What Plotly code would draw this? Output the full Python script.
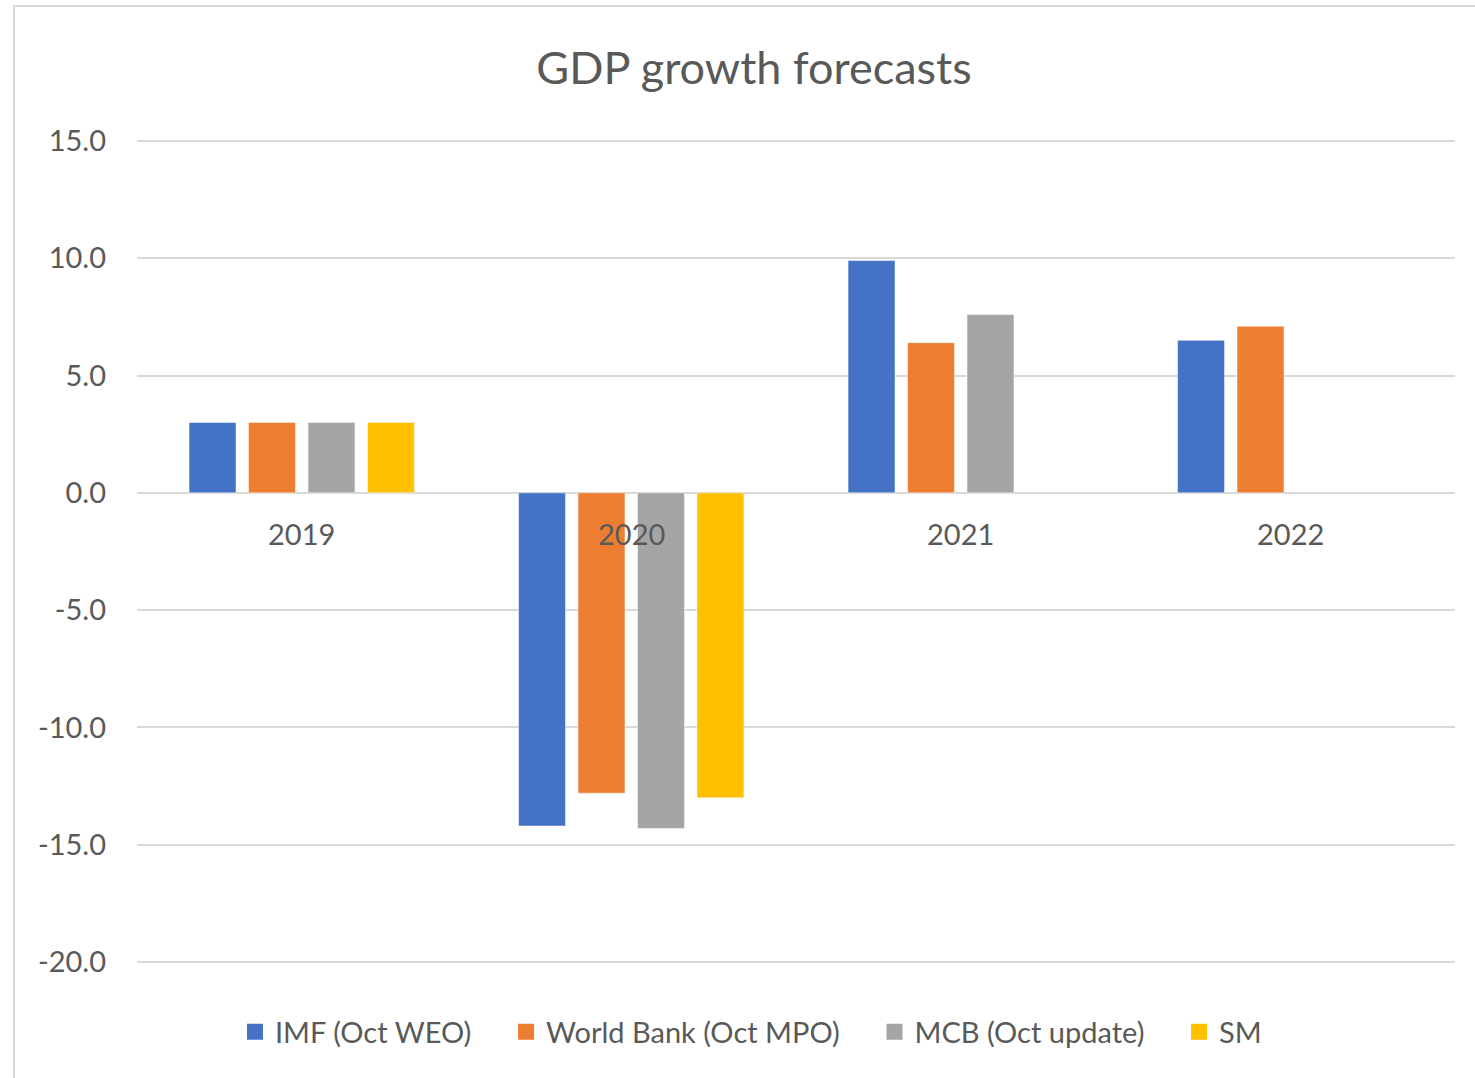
import plotly.graph_objects as go

# ---- data ----
years = ["2019", "2020", "2021", "2022"]
imf = [3.0, -14.2, 9.9, 6.5]
world_bank = [3.0, -12.8, 6.4, 7.1]
mcb = [3.0, -14.3, 7.6, None]
sm = [3.0, -13.0, None, None]
series_names = ["IMF (Oct WEO)", "World Bank (Oct MPO)", "MCB (Oct update)", "SM"]
series_colors = ["#4472C4", "#ED7D31", "#A5A5A5", "#FFC000"]
y_ticks = [15, 10, 5, 0, -5, -10, -15, -20]
y_tick_text = ["15.0", "10.0", "5.0", "0.0", "-5.0", "-10.0", "-15.0", "-20.0"]

W, H = 1475, 1078
ML, MR, MT, MB = 137, 20, 139, 114
FONT = "Lato"
TXT = "#595959"
GRID = "#D9D9D9"
FS = 29

fig = go.Figure()
for name, vals, col in zip(series_names, [imf, world_bank, mcb, sm], series_colors):
    fig.add_trace(go.Bar(
        x=years, y=vals, name=name, showlegend=False,
        marker=dict(color=col, line=dict(color="rgba(255,255,255,0.5)", width=1)),
    ))
# legend entries (square swatches)
for i, (name, col) in enumerate(zip(series_names, series_colors)):
    pad = "\u00a0" * 4 if i < len(series_names) - 1 else ""
    fig.add_trace(go.Scatter(
        x=[None], y=[None], mode="markers", name=name + pad,
        marker=dict(symbol="square", size=18, color=col),
    ))

# category labels just below the zero line (category index positions)
for i, yr in enumerate(years):
    fig.add_annotation(x=i, y=0, xref="x", yref="y", text=yr, showarrow=False,
                       yshift=-41, yanchor="middle",
                       font=dict(family=FONT, size=FS, color=TXT))

pw = W - ML - MR
ph = H - MT - MB
# chart border (left/top visible, rest cut off)
fig.add_shape(type="rect", xref="paper", yref="paper",
              x0=(14 - ML) / pw, x1=(W + 10 - ML) / pw,
              y0=-(H + 10 - (H - MB)) / ph, y1=1 + (MT - 6) / ph,
              line=dict(color=GRID, width=2), fillcolor="rgba(0,0,0,0)", layer="below")

fig.update_layout(
    width=W, height=H,
    margin=dict(l=ML, r=MR, t=MT, b=MB, pad=0),
    paper_bgcolor="white", plot_bgcolor="white",
    barmode="group", bargap=0.278, bargroupgap=0.21,
    title=dict(text="GDP growth forecasts", x=754 / W, xanchor="center",
               y=1 - 68 / H, yanchor="middle", yref="container",
               font=dict(family=FONT, size=45, color=TXT)),
    font=dict(family=FONT, color=TXT),
    xaxis=dict(type="category", range=[-0.5, len(years) - 0.5], showticklabels=False,
               showgrid=False, zeroline=False, showline=False, ticks=""),
    yaxis=dict(range=[-20.08, 15.08], tickvals=y_ticks, ticktext=y_tick_text,
               showgrid=True, gridcolor=GRID, gridwidth=2,
               zeroline=True, zerolinecolor=GRID, zerolinewidth=2,
               showline=False, ticks="", ticklabelstandoff=30,
               tickfont=dict(family=FONT, size=FS, color=TXT)),
    legend=dict(orientation="h", x=(235 - ML) / pw, xanchor="left",
                y=-(1032 - (H - MB)) / ph, yanchor="middle",
                font=dict(family=FONT, size=FS, color=TXT),
                itemclick=False, bgcolor="rgba(0,0,0,0)", itemsizing="trace"),
    showlegend=True,
)

fig.write_html("out.html", config={"displayModeBar": False},
               post_script="document.body.style.margin='0';")
